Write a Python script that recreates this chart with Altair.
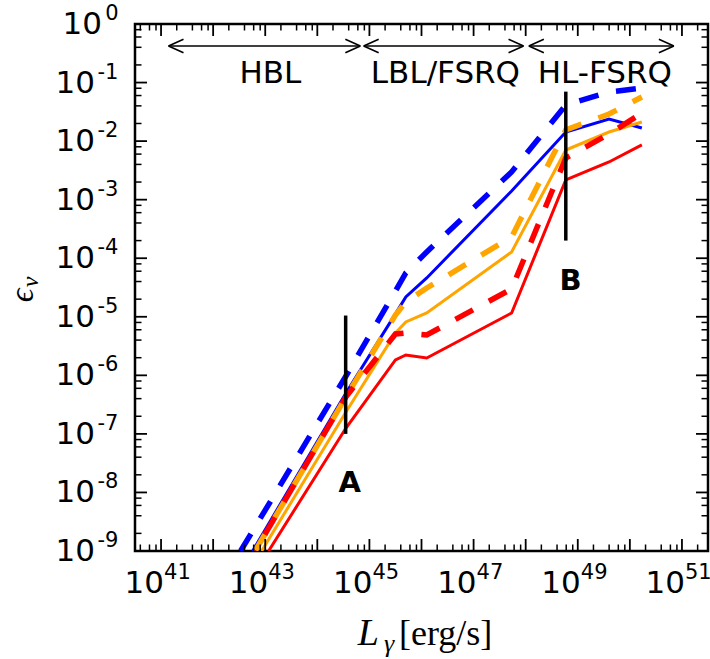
import altair as alt
import pandas as pd

# ---------------- data ----------------
L_grid = [3.55e44, 3.16e45, 5.0e45, 1.26e46, 5.37e47, 5.89e48, 3.98e49, 1.70e50]

L_start_blue_solid = 5.73e42
L_start_blue_dashed = 3.37e42
L_start_orange_solid = 8.53e42
L_start_orange_dashed = 6.4e42
L_start_red_solid = 1.16e43
L_start_red_dashed = 6.4e42
eps_start = 1e-9

eps_blue_solid = [5.0e-7, 1.12e-5, 2.18e-5, 4.6e-5, 1.41e-3, 1.43e-2, 2.39e-2, 1.67e-2]
eps_blue_dashed = [9.75e-7, 2.76e-5, 5.6e-5, 1.28e-4, 2.97e-3, 4.14e-2, 6.9e-2, 8.07e-2]
eps_orange_solid = [2.37e-7, 5.28e-6, 8.15e-6, 1.16e-5, 1.28e-4, 7.05e-3, 1.43e-2, 2.12e-2]
eps_orange_dashed = [4.3e-7, 1.07e-5, 1.79e-5, 3.1e-5, 2.31e-4, 1.55e-2, 2.9e-2, 5.66e-2]
eps_red_solid = [1.26e-7, 1.83e-6, 2.23e-6, 1.98e-6, 1.16e-5, 2.17e-3, 4.4e-3, 8.6e-3]
eps_red_dashed = [4.3e-7, 5.08e-6, 5.28e-6, 4.89e-6, 2.99e-5, 5.15e-3, 1.32e-2, 3.02e-2]

# vertical markers A and B
marker_names = ["A", "B"]
marker_L = [3.5e44, 5.89e48]
marker_eps_low = [1e-7, 2e-4]
marker_eps_high = [1.05e-5, 7e-2]
marker_label_L = [4.17e44, 7.24e48]
marker_label_eps = [1e-8, 2.9e-5]

# source classes (arrows at top)
class_names = ["HBL", "LBL/FSRQ", "HL-FSRQ"]
class_L_lo = [1.39e41, 7.76e44, 1.15e48]
class_L_hi = [6.7e44, 9.1e47, 7.0e50]
class_label_L = [1.26e43, 2.88e46, 3.31e49]
arrow_eps = 0.42
class_label_eps = 0.1

# axis ticks
x_major_exps = list(range(41, 52))
x_label_exps = [41, 43, 45, 47, 49, 51]
y_major_exps = list(range(-9, 1))
minor_mult = [2, 4, 6, 8]

# ---------------- layout ----------------
W, H = 573, 527
XMIN, XMAX = 10 ** 40.5, 10 ** 51.5
YMIN, YMAX = 1e-9, 1.0
FONT = "DejaVu Sans"

xs = alt.Scale(type="log", domain=[XMIN, XMAX], nice=False)
ys = alt.Scale(type="log", domain=[YMIN, YMAX], nice=False)


def X(f):
    return alt.X(f"{f}:Q", scale=xs, axis=None)


def Y(f):
    return alt.Y(f"{f}:Q", scale=ys, axis=None)


layers = []

# ---------------- curves ----------------
series = [
    ("blue", "solid", L_start_blue_solid, eps_blue_solid, "#0000ff", 0),
    ("blue", "dashed", L_start_blue_dashed, eps_blue_dashed, "#0000ff", 0),
    ("orange", "solid", L_start_orange_solid, eps_orange_solid, "#ffa500", 0),
    ("orange", "dashed", L_start_orange_dashed, eps_orange_dashed, "#ffa500", 0),
    ("red", "solid", L_start_red_solid, eps_red_solid, "#ff0000", 0),
    ("red", "dashed", L_start_red_dashed, eps_red_dashed, "#ff0000", 19),
]
for name, style, l0, eps, col, off in series:
    df = pd.DataFrame({"L": [l0] + L_grid, "eps": [eps_start] + eps, "o": list(range(len(eps) + 1))})
    if style == "solid":
        mk = alt.Chart(df).mark_line(color=col, strokeWidth=3, clip=True)
    else:
        mk = alt.Chart(df).mark_line(color=col, strokeWidth=5.5, strokeDash=[20, 18],
                                     strokeDashOffset=off, clip=True)
    layers.append(mk.encode(x=X("L"), y=Y("eps"), order="o:Q"))

# ---------------- markers A / B ----------------
mdf = pd.DataFrame({"name": marker_names, "L": marker_L, "lo": marker_eps_low, "hi": marker_eps_high,
                    "lL": marker_label_L, "le": marker_label_eps})
layers.append(alt.Chart(mdf).mark_rule(color="black", strokeWidth=3.5).encode(
    x=X("L"), y=Y("lo"), y2="hi:Q"))
layers.append(alt.Chart(mdf).mark_text(font=FONT, fontSize=29, fontWeight="bold", align="center",
                                       baseline="alphabetic", color="black").encode(
    x=X("lL"), y=Y("le"), text="name:N"))

# ---------------- class arrows ----------------
cdf = pd.DataFrame({"name": class_names, "lo": class_L_lo, "hi": class_L_hi, "lab": class_label_L,
                    "ae": [arrow_eps] * 3, "le": [class_label_eps] * 3})
layers.append(alt.Chart(cdf).mark_rule(color="black", strokeWidth=1.6).encode(
    x=X("lo"), x2="hi:Q", y=Y("ae")))
layers.append(alt.Chart(cdf).mark_point(shape="M0,0L1,-0.45M0,0L1,0.45", filled=False, size=900,
                                        strokeWidth=1.6, color="black", opacity=1).encode(
    x=X("lo"), y=Y("ae")))
layers.append(alt.Chart(cdf).mark_point(shape="M0,0L-1,-0.45M0,0L-1,0.45", filled=False, size=900,
                                        strokeWidth=1.6, color="black", opacity=1).encode(
    x=X("hi"), y=Y("ae")))
layers.append(alt.Chart(cdf).mark_text(font=FONT, fontSize=31, align="center", baseline="alphabetic",
                                       color="black").encode(x=X("lab"), y=Y("le"), text="name:N"))

# ---------------- ticks (inward, on all four sides) ----------------
xmaj = pd.DataFrame({"v": [10.0 ** e for e in x_major_exps]})
xmin_vals = [m * 10.0 ** e for e in range(40, 52) for m in minor_mult]
xmin = pd.DataFrame({"v": [v for v in xmin_vals if XMIN <= v <= XMAX]})
ymaj = pd.DataFrame({"v": [10.0 ** e for e in y_major_exps]})
ymin_vals = [m * 10.0 ** e for e in range(-9, 0) for m in minor_mult]
ymin = pd.DataFrame({"v": ymin_vals})

for df, ln, sw in [(xmaj, 12, 1.8), (xmin, 6.5, 1.5)]:
    layers.append(alt.Chart(df).mark_rule(color="black", strokeWidth=sw).encode(
        x=X("v"), y=alt.value(H), y2=alt.value(H - ln)))
    layers.append(alt.Chart(df).mark_rule(color="black", strokeWidth=sw).encode(
        x=X("v"), y=alt.value(0), y2=alt.value(ln)))
for df, ln, sw in [(ymaj, 12, 1.8), (ymin, 6.5, 1.5)]:
    layers.append(alt.Chart(df).mark_rule(color="black", strokeWidth=sw).encode(
        y=Y("v"), x=alt.value(0), x2=alt.value(ln)))
    layers.append(alt.Chart(df).mark_rule(color="black", strokeWidth=sw).encode(
        y=Y("v"), x=alt.value(W), x2=alt.value(W - ln)))

# ---------------- tick labels ----------------
xl = pd.DataFrame({"v": [10.0 ** e for e in x_label_exps], "e": [str(e) for e in x_label_exps]})
layers.append(alt.Chart(xl).mark_text(font=FONT, fontSize=31, align="right", baseline="alphabetic",
                                      dx=3, color="black").encode(
    x=X("v"), y=alt.value(H + 42), text=alt.value("10")))
layers.append(alt.Chart(xl).mark_text(font=FONT, fontSize=21, align="left", baseline="alphabetic",
                                      dx=3, color="black").encode(
    x=X("v"), y=alt.value(H + 28), text="e:N"))

yl = pd.DataFrame({"v": [10.0 ** e for e in y_major_exps],
                   "e": [str(e) for e in y_major_exps],
                   "n": y_major_exps})
layers.append(alt.Chart(yl).mark_text(font=FONT, fontSize=21, align="right", baseline="alphabetic",
                                      dy=-4, color="black").encode(
    y=Y("v"), x=alt.value(-16.5), text="e:N"))
layers.append(alt.Chart(yl).transform_filter("datum.n < 0").mark_text(
    font=FONT, fontSize=31, align="right", baseline="alphabetic", dy=10, color="black").encode(
    y=Y("v"), x=alt.value(-40), text=alt.value("10")))
layers.append(alt.Chart(yl).transform_filter("datum.n == 0").mark_text(
    font=FONT, fontSize=31, align="right", baseline="alphabetic", dy=10, color="black").encode(
    y=Y("v"), x=alt.value(-33), text=alt.value("10")))

# ---------------- axis titles ----------------
tdf = pd.DataFrame({"k": [0]})
SERIF = "Liberation Serif, DejaVu Serif"
layers.append(alt.Chart(tdf).mark_text(font=SERIF, fontSize=38, fontStyle="italic", align="right",
                                       baseline="alphabetic", color="black").encode(
    x=alt.value(244), y=alt.value(H + 94), text=alt.value("L")))
layers.append(alt.Chart(tdf).mark_text(font=SERIF, fontSize=26, fontStyle="italic", align="center",
                                       baseline="alphabetic", color="black").encode(
    x=alt.value(254), y=alt.value(H + 101), text=alt.value("\u03b3")))
layers.append(alt.Chart(tdf).mark_text(font=SERIF, fontSize=36, align="left",
                                       baseline="alphabetic", color="black").encode(
    x=alt.value(264), y=alt.value(H + 94), text=alt.value("[erg/s]")))
layers.append(alt.Chart(tdf).mark_text(font=SERIF, fontSize=34, fontStyle="italic", align="center",
                                       baseline="middle", angle=270, color="black").encode(
    x=alt.value(-112.5), y=alt.value(271.5), text=alt.value("\u03f5")))
layers.append(alt.Chart(tdf).mark_text(font=SERIF, fontSize=24, fontStyle="italic", align="center",
                                       baseline="middle", angle=270, color="black").encode(
    x=alt.value(-104), y=alt.value(258), text=alt.value("\u03bd")))

chart = alt.layer(*layers).properties(
    width=W, height=H,
    padding={"left": 135, "top": 24, "right": 2, "bottom": 108},
    autosize=alt.AutoSizeParams(type="none"),
    background="white",
).configure_view(stroke="black", strokeWidth=2.5)

chart.save("out.html", embed_options={"renderer": "svg", "actions": False})
